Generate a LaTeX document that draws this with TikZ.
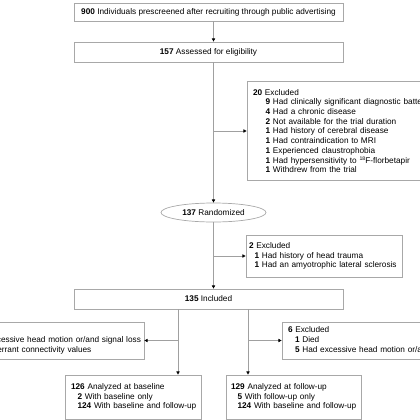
\documentclass[tikz,border=0pt]{standalone}
\usepackage{fontspec}
\setmainfont{Liberation Sans}
\usetikzlibrary{arrows.meta,shapes.geometric}
\definecolor{linegray}{HTML}{A0A0A0}
\definecolor{boxgray}{HTML}{A8A8A8}
\newcommand{\fs}{\fontsize{8.25}{9.7}\selectfont}
\newcommand{\fline}[2][6.5pt]{\mbox{\hspace*{#1}#2}}
\newcommand{\supnum}[1]{\raisebox{2.8pt}{\fontsize{5.2}{5.2}\selectfont #1}}
\begin{document}
\begin{tikzpicture}[x=1pt,y=-1pt,
  cbox/.style={draw=boxgray, line width=0.7pt, rectangle, inner ysep=0pt, inner xsep=0pt, font=\fs, align=center},
  lbox/.style={draw=boxgray, line width=0.7pt, rectangle, inner ysep=0pt, font=\fs, align=left},
  oval/.style={draw=boxgray, line width=0.7pt, ellipse, inner sep=0pt, font=\fs},
  conn/.style={draw=linegray, line width=0.7pt},
  arr/.style={conn, -{Triangle[length=3.2pt,width=3.2pt,color=black]}}]
\useasboundingbox (0,0) rectangle (420,420);
\clip (0,0) rectangle (420,420);

\node[cbox, minimum width=269pt, minimum height=17.5pt] (top) at (208.5,12.25)
  {\textbf{900} Individuals prescreened after recruiting through public advertising};
\node[cbox, minimum width=269pt, minimum height=20pt] (elig) at (208.5,52)
  {\textbf{157} Assessed for eligibility};

\node[lbox, minimum width=213pt, minimum height=99pt, text width=201pt, inner xsep=6pt] (ex1) at (353.5,131)
  {\fline[0pt]{\textbf{20} Excluded}\\
   \fline[12.6pt]{\textbf{9} Had clinically significant diagnostic battery results}\\
   \fline[12.6pt]{\textbf{4} Had a chronic disease}\\
   \fline[12.6pt]{\textbf{2} Not available for the trial duration}\\
   \fline[12.6pt]{\textbf{1} Had history of cerebral disease}\\
   \fline[12.6pt]{\textbf{1} Had contraindication to MRI}\\
   \fline[12.6pt]{\textbf{1} Experienced claustrophobia}\\
   \fline[12.6pt]{\textbf{1} Had hypersensitivity to \supnum{18}F-florbetapir}\\
   \fline[12.6pt]{\textbf{1} Withdrew from the trial}};

\node[oval, minimum width=105pt, minimum height=19pt] (rand) at (213.5,212.5)
  {\textbf{137} Randomized};

\node[lbox, minimum width=156pt, minimum height=42pt, text width=150pt, inner xsep=3pt] (ex2) at (324,256)
  {\fline[0pt]{\textbf{2} Excluded}\\
   \fline[5.5pt]{\textbf{1} Had history of head trauma}\\
   \fline[5.5pt]{\textbf{1} Had an amyotrophic lateral sclerosis}};

\node[cbox, minimum width=269pt, minimum height=20pt] (incl) at (208.5,299)
  {\textbf{135} Included};

\coordinate (b1) at (178,0);
\coordinate (b2) at (248,0);

\node[lbox, minimum width=199pt, minimum height=37pt, text width=176pt, inner xsep=11.5pt] (exL) at (44.5,340.5)
  {\fline[0pt]{\textbf{9} Excluded}\\
   \fline{\textbf{5} Had excessive head motion or/and signal loss}\\
   \fline{\textbf{4} Had aberrant connectivity values}};

\node[lbox, minimum width=198pt, minimum height=37pt, text width=186pt, inner xsep=6pt] (exR) at (381,340.5)
  {\fline[0pt]{\textbf{6} Excluded}\\
   \fline[7pt]{\textbf{1} Died}\\
   \fline[7pt]{\textbf{5} Had excessive head motion or/and signal loss}};

\node[lbox, minimum width=136pt, minimum height=44pt, text width=124pt, inner xsep=6pt] (base) at (133,397)
  {\fline[0pt]{\textbf{126} Analyzed at baseline}\\
   \fline{\textbf{2} With baseline only}\\
   \fline{\textbf{124} With baseline and follow-up}};

\node[lbox, minimum width=135pt, minimum height=44pt, text width=125pt, inner xsep=5pt] (fu) at (293.5,397)
  {\fline[0pt]{\textbf{129} Analyzed at follow-up}\\
   \fline{\textbf{5} With follow-up only}\\
   \fline{\textbf{124} With baseline and follow-up}};

\draw[arr] (top.south -| rand.center) -- (elig.north -| rand.center);
\draw[arr] (elig.south -| rand.center) -- (rand.north);
\draw[arr] (rand.center |- ex1.west) -- (ex1.west);
\draw[arr] (rand.south) -- (incl.north -| rand.center);
\draw[arr] (rand.center |- ex2.west) -- (ex2.west);
\draw[arr] (incl.south -| b1) -- (base.north -| b1);
\draw[arr] (b1 |- exL.east) -- (exL.east);
\draw[arr] (incl.south -| b2) -- (fu.north -| b2);
\draw[arr] (b2 |- exR.west) -- (exR.west);
\end{tikzpicture}
\end{document}
